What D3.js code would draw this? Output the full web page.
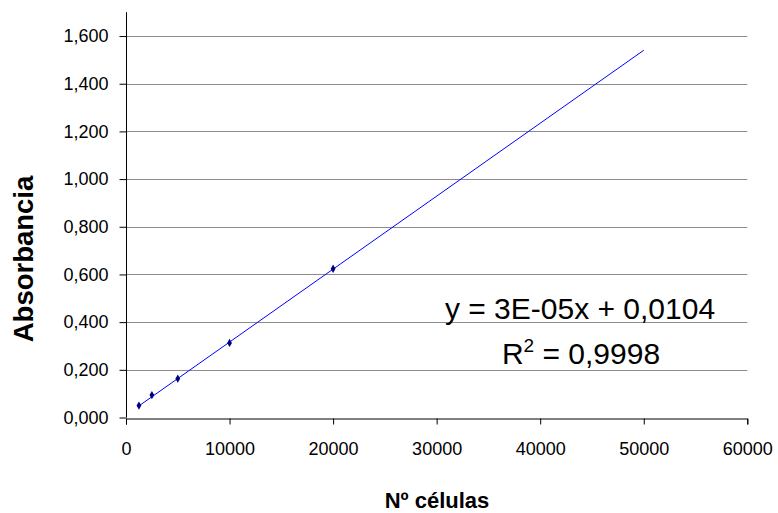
<!DOCTYPE html>
<html>
<head>
<meta charset="utf-8">
<script src="https://cdn.jsdelivr.net/npm/d3@7"></script>
<style>
  html, body { margin: 0; padding: 0; background: #fff; }
  svg { display: block; font-family: "Liberation Sans", Arial, sans-serif; }
</style>
</head>
<body>
<svg id="chart" width="778" height="513"></svg>
<script>
// Calibration data: number of cells vs. absorbance
const cells = [1250, 2500, 5000, 10000, 20000];
const absorbance = [0.050, 0.094, 0.163, 0.313, 0.624];

// Linear trendline (as reported)
const trendSlope = 0.0000306;
const trendIntercept = 0.0104;
const trendRange = [1250, 50000];
const equationText = "y = 3E-05x + 0,0104";
const r2Value = "0,9998";

const xTicks = [0, 10000, 20000, 30000, 40000, 50000, 60000];
const yTicks = [0, 0.2, 0.4, 0.6, 0.8, 1.0, 1.2, 1.4, 1.6];

const svg = d3.select("#chart");
const plotLeft = 126, plotRight = 747.3, plotBottom = 417.5, plotTop = 12.2;

const x = d3.scaleLinear().domain([0, 60000]).range([plotLeft, plotRight]);
const y = d3.scaleLinear().domain([0, 1.7]).range([plotBottom, plotTop]);

// Spanish-style decimal comma
const yLabel = v => v.toFixed(3).replace(".", ",");

// Horizontal gridlines
svg.append("g")
  .selectAll("line")
  .data(yTicks.filter(d => d > 0))
  .join("line")
  .attr("x1", plotLeft).attr("x2", plotRight)
  .attr("y1", d => Math.round(y(d)) + 0.5).attr("y2", d => Math.round(y(d)) + 0.5)
  .attr("stroke", "#8c8c8c").attr("stroke-width", 1);

// Y axis
const yAxis = svg.append("g")
  .attr("transform", `translate(${plotLeft + 0.5},0)`)
  .call(d3.axisLeft(y).tickValues(yTicks).tickSize(7).tickPadding(11).tickFormat(yLabel));
yAxis.select(".domain").attr("stroke", "#000").attr("d", `M0,${plotTop}V${plotBottom}`);
yAxis.selectAll(".tick line").attr("stroke", "#000");
yAxis.selectAll(".tick text").attr("font-size", 18).attr("fill", "#000")
  .attr("font-family", "Liberation Sans, Arial, sans-serif");

// X axis
const xAxis = svg.append("g")
  .attr("transform", `translate(0,${Math.round(plotBottom) + 0.5})`)
  .call(d3.axisBottom(x).tickValues(xTicks).tickSize(6).tickPadding(18).tickFormat(d3.format("d")));
xAxis.select(".domain").attr("stroke", "#000");
xAxis.selectAll(".tick line").attr("stroke", "#000");
xAxis.selectAll(".tick text").attr("font-size", 18).attr("fill", "#000")
  .attr("font-family", "Liberation Sans, Arial, sans-serif");

// Trendline
svg.append("line")
  .attr("x1", x(trendRange[0])).attr("y1", y(trendSlope * trendRange[0] + trendIntercept))
  .attr("x2", x(trendRange[1])).attr("y2", y(trendSlope * trendRange[1] + trendIntercept))
  .attr("stroke", "#0000ff").attr("stroke-width", 1);

// Data markers
svg.append("g")
  .selectAll("path")
  .data(cells.map((c, i) => [c, absorbance[i]]))
  .join("path")
  .attr("d", d3.symbol(d3.symbolDiamond, 20))
  .attr("transform", d => `translate(${x(d[0])},${y(d[1])})`)
  .attr("fill", "#000080");

// Equation and R²
const eq = svg.append("g").attr("font-size", 30).attr("fill", "#000").attr("text-anchor", "middle");
eq.append("text").attr("x", 580).attr("y", 319).text(equationText);
const r2 = eq.append("text").attr("x", 581).attr("y", 364);
r2.append("tspan").text("R");
r2.append("tspan").attr("font-size", 19).attr("dy", -12).text("2");
r2.append("tspan").attr("dy", 12).text(" = " + r2Value);

// Axis titles
svg.append("text")
  .attr("transform", "translate(33,259) rotate(-90)")
  .attr("text-anchor", "middle")
  .attr("font-size", 27.5).attr("font-weight", "bold")
  .text("Absorbancia");

svg.append("text")
  .attr("x", 437).attr("y", 508)
  .attr("text-anchor", "middle")
  .attr("font-size", 22).attr("font-weight", "bold")
  .text("Nº células");
</script>
</body>
</html>
